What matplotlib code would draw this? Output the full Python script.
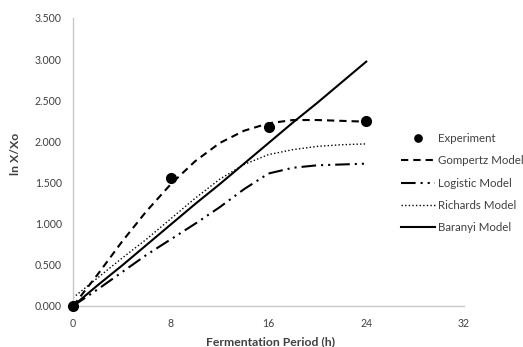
import matplotlib.pyplot as plt

plt.rcParams['font.family'] = ['Lato', 'DejaVu Sans']

# experiment
exp_t = [0, 8, 16, 24]
exp_y = [0.0, 1.55, 2.17, 2.25]

# model curves
t = [0, 2, 4, 6, 8, 10, 12, 14, 16, 18, 20, 22, 24]
gompertz = [0.0, 0.38, 0.78, 1.15, 1.48, 1.76, 1.98, 2.13, 2.22, 2.26, 2.26, 2.25, 2.24]
logistic = [0.0, 0.2, 0.41, 0.62, 0.81, 1.0, 1.2, 1.42, 1.61, 1.68, 1.71, 1.72, 1.73]
richards = [0.1, 0.34, 0.58, 0.81, 1.06, 1.31, 1.54, 1.72, 1.84, 1.9, 1.94, 1.96, 1.97]
baranyi = [0.0, 0.25, 0.49, 0.74, 0.99, 1.24, 1.48, 1.73, 1.98, 2.23, 2.47, 2.72, 2.97]

xticks = [0, 8, 16, 24, 32]
yticks = [0, 0.5, 1.0, 1.5, 2.0, 2.5, 3.0, 3.5]

txt = '#404040'

fig = plt.figure(figsize=(5.23, 3.47), dpi=100)
ax = fig.add_axes([73/523, 1 - 306/347, (464-73)/523, (306-18)/347])

ax.plot(exp_t, exp_y, 'o', color='black', markersize=7, label='Experiment', zorder=5, clip_on=False)
ax.plot(t, gompertz, color='black', lw=1.5, linestyle=(0, (3.5, 2.4)), label='Gompertz Model')
ax.plot(t, logistic, color='black', lw=1.5, linestyle=(0, (7, 2.4, 1, 2.4, 1, 2.4)), label='Logistic Model')
ax.plot(t, richards, color='black', lw=1.0, linestyle=(0, (1, 1.6)), label='Richards Model')
ax.plot(t, baranyi, color='black', lw=1.5, label='Baranyi Model')

ax.set_xlim(0, 32)
ax.set_ylim(0, 3.5)
ax.set_xticks(xticks)
ax.set_yticks(yticks)
ax.set_yticklabels([f'{v:.3f}' for v in yticks])
ax.tick_params(length=0, labelsize=7.6, colors=txt)
ax.tick_params(axis='x', pad=8.5)
ax.tick_params(axis='y', pad=8)
for s in ['top', 'right']:
    ax.spines[s].set_visible(False)
for s in ['left', 'bottom']:
    ax.spines[s].set_color('#c8c8c8')
    ax.spines[s].set_linewidth(1.0)

ax.set_xlabel('Fermentation Period (h)', fontsize=8.8, fontweight='bold', color=txt)
ax.set_ylabel('ln X/Xo', fontsize=8.8, fontweight='bold', color=txt)
ax.xaxis.set_label_coords(0.504, -0.104)
ax.yaxis.set_label_coords(-0.133, 0.528)

leg = ax.legend(loc='upper left', bbox_to_anchor=((401-73)/391, 1 - (133-18)/288),
                frameon=False, fontsize=8.3, handlelength=2.95, labelspacing=0.98,
                handletextpad=0.26, borderpad=0, borderaxespad=0, markerscale=0.75,
                labelcolor=txt)

fig.savefig('out.png', dpi=100)
